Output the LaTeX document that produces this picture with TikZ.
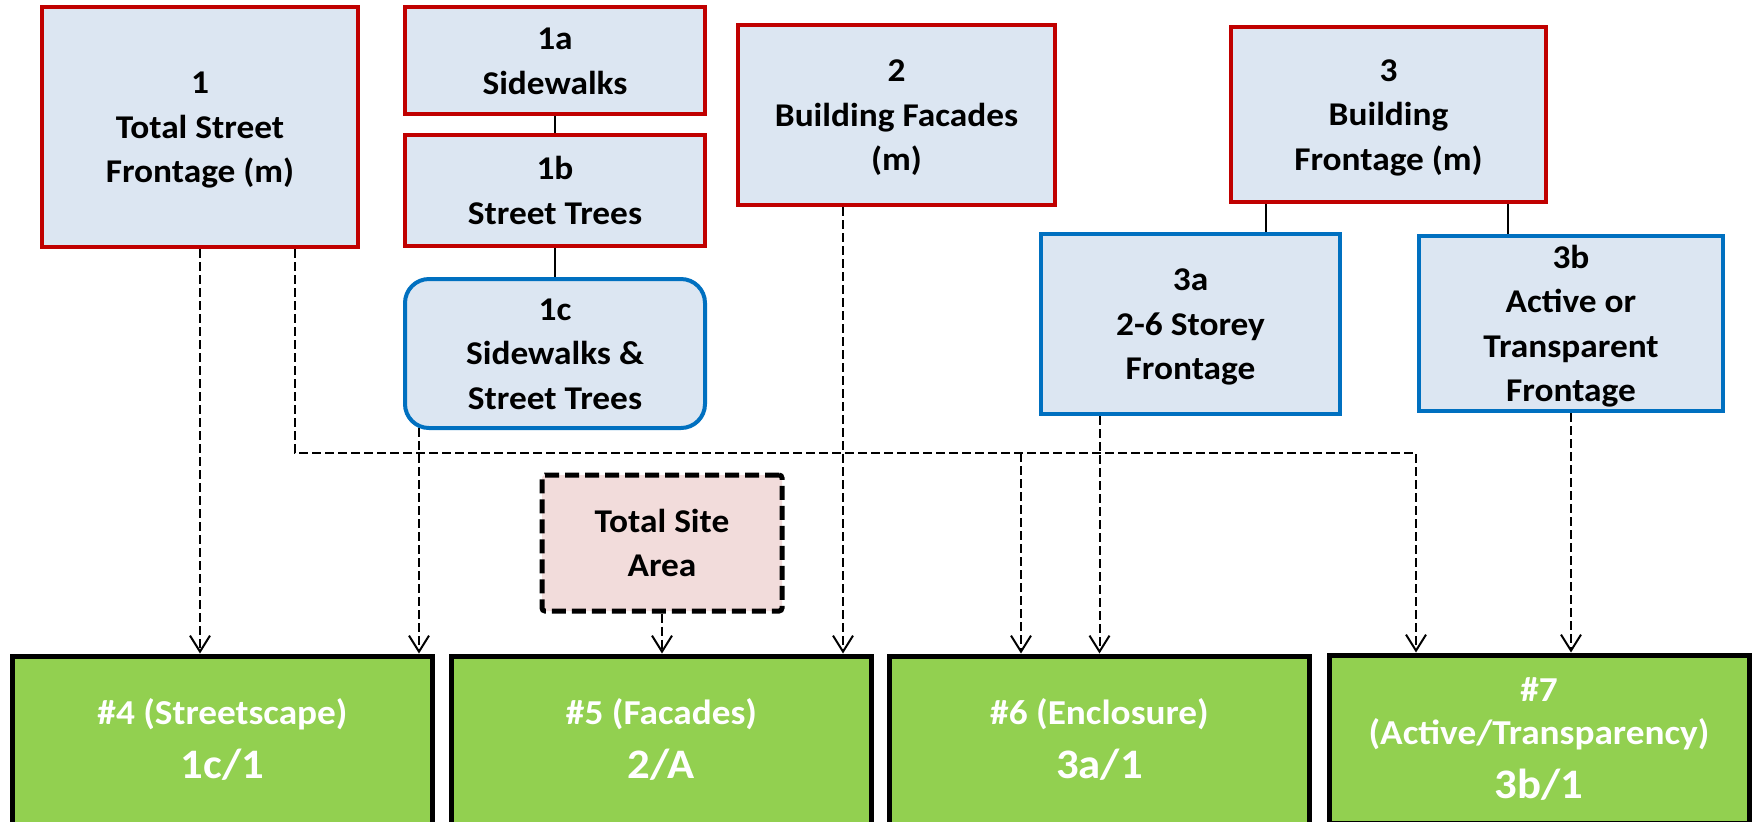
\documentclass[tikz,border=0pt]{standalone}
\usepackage{fontspec}
\setmainfont{Carlito}[FakeStretch=1.065]
\usetikzlibrary{arrows.meta,calc}
\definecolor{boxfill}{HTML}{DCE6F2}
\definecolor{redline}{HTML}{C00000}
\definecolor{blueline}{HTML}{0070C0}
\definecolor{greenfill}{HTML}{92D050}
\definecolor{sitefill}{HTML}{F2DCDB}
\newcommand\ratiofont{\fontsize{21}{26}\selectfont}
% full line-box struts: ascent above the first line, descent below the last
\newcommand\topstrut{\rule{0pt}{15.8pt}}
\newcommand\botstrut{\rule[-4.5pt]{0pt}{4.5pt}}
\begin{document}
\begin{tikzpicture}[x=0.5pt,y=-0.5pt,
  base/.style={rectangle, align=center, inner sep=0pt,
    font=\fontsize{16.6}{22.2}\selectfont\bfseries},
  source/.style={base, draw=redline, fill=boxfill, line width=2pt},
  derived/.style={base, draw=blueline, fill=boxfill, line width=2pt},
  sitebox/.style={base, draw=black, fill=sitefill, line width=2.5pt,
    dash pattern=on 7pt off 3pt, rounded corners=1.5pt,
    minimum width=120pt, minimum height=68pt},
  result/.style={base, draw=black, fill=greenfill, line width=2.5pt,
    font=\fontsize{17.5}{21.5}\selectfont\bfseries,
    text=white, minimum width=210pt, minimum height=84pt},
  tie/.style={draw=black, line width=1pt},
  link/.style={draw=black, line width=1pt, dash pattern=on 4.5pt off 2pt,
    -{Straight Barb[length=8pt,width=10pt,line width=1pt]}}
]
\useasboundingbox (0,0) rectangle (1756,821);
\clip (0,0) rectangle (1756,821);

% input measures
\node[source, minimum width=158pt, minimum height=120pt] (b1) at (200,127)
  {\topstrut 1\\Total Street\\Frontage (m)\botstrut};
\node[source, minimum width=150pt, minimum height=53.5pt] (b1a) at (555,60.5)
  {\topstrut 1a\\Sidewalks\botstrut};
\node[source, minimum width=150pt, minimum height=55.5pt] (b1b) at (555,190.5)
  {\topstrut 1b\\Street Trees\botstrut};
\node[derived, rounded corners=12pt, minimum width=150pt, minimum height=74.5pt] (b1c) at (555,353.5)
  {\topstrut 1c\\Sidewalks \&\\Street Trees\botstrut};
\node[source, minimum width=158.5pt, minimum height=90pt] (b2) at (896.5,115)
  {\topstrut 2\\Building Facades\\(m)\botstrut};
\node[source, minimum width=157.5pt, minimum height=87.5pt] (b3) at (1388.5,114.5)
  {\topstrut 3\\Building\\Frontage (m)\botstrut};
\node[derived, minimum width=149.5pt, minimum height=90pt] (b3a) at (1190.5,324)
  {\topstrut 3a\\2-6 Storey\\Frontage\botstrut};
\node[derived, minimum width=152pt, minimum height=87.5pt] (b3b) at (1571,323.5)
  {\topstrut 3b\\Active or\\Transparent\\Frontage\botstrut};
\node[sitebox] (site) at (662,543) {\topstrut Total Site\\Area\botstrut};

% resulting indicators
\node[result] (g4) at (222.5,740)
  {\topstrut\#4 (Streetscape)\\[5.5pt]{\ratiofont 1c/1}\botstrut};
\node[result] (g5) at (661.5,740)
  {\topstrut\#5 (Facades)\\[5.5pt]{\ratiofont 2/A}\botstrut};
\node[result] (g6) at (1099.5,740)
  {\topstrut\#6 (Enclosure)\\[5.5pt]{\ratiofont 3a/1}\botstrut};
\node[result] (g7) at (1539,739)
  {\topstrut\#7\\(Active/Transparency)\\[5.5pt]{\ratiofont 3b/1}\botstrut};

% hierarchy ties
\coordinate (t3a) at (1266,0);
\coordinate (t3b) at (1508,0);
\draw[tie] (b1a.south) -- (b1b.north);
\draw[tie] (b1b.south) -- (b1c.north);
\draw[tie] (b3.south -| t3a) -- (b3a.north -| t3a);
\draw[tie] (b3.south -| t3b) -- (b3b.north -| t3b);

% calculation links
\coordinate (busL) at (295,453);
\coordinate (busM) at (1021,453);
\coordinate (busR) at (1416,453);
\coordinate (c1c) at (419,428);
\coordinate (c2) at (843,0);
\draw[link] (b1.south) -- (b1.south |- g4.north);
\draw[link] (c1c) -- (c1c |- g4.north);
\draw[link] (b1.south -| busL) -- (busL) -- (busR) -- (busR |- g7.north);
\draw[link] (busM) -- (busM |- g6.north);
\draw[link] (site.south) -- (site.south |- g5.north);
\draw[link] (b2.south -| c2) -- (g5.north -| c2);
\draw[link] (b3a.south -| g6.north) -- (g6.north);
\draw[link] (b3b.south) -- (b3b.south |- g7.north);
\end{tikzpicture}
\end{document}
